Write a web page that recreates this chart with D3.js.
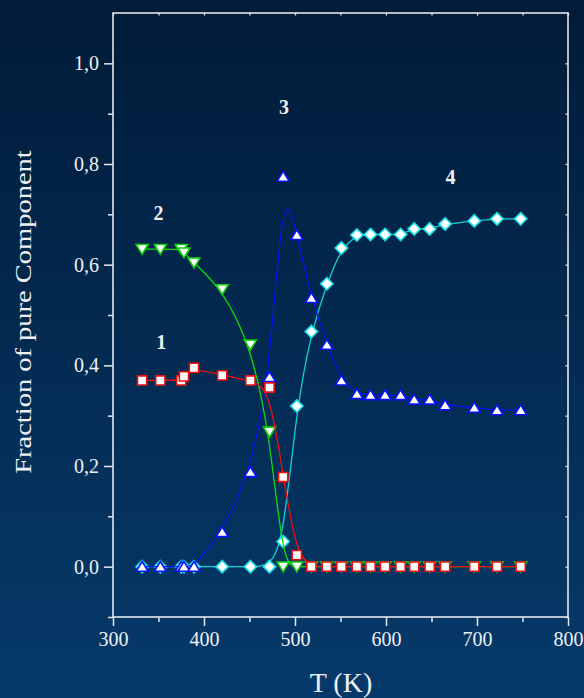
<!DOCTYPE html>
<html>
<head>
<meta charset="utf-8">
<script src="https://cdn.jsdelivr.net/npm/d3@7"></script>
<style>
  html, body { margin: 0; padding: 0; background: #001c3c; }
  svg { display: block; }
  text { font-family: "Liberation Serif", "Times New Roman", serif; fill: #eef0f4; }
</style>
</head>
<body>
<svg id="chart" width="584" height="698"></svg>
<script>
// Temperature grid (K)
const temps = [332, 352, 375, 378, 389, 420, 451, 472, 487, 502, 518, 535, 551,
               568, 583, 599, 616, 631, 648, 665, 697, 722, 748];

// Fraction of each pure component at every temperature
const comp1 = [0.370, 0.370, 0.370, 0.378, 0.395, 0.380, 0.370, 0.356, 0.178, 0.023, 0, 0, 0,
               0, 0, 0, 0, 0, 0, 0, 0, 0, 0];
const comp2 = [0.631, 0.631, 0.631, 0.624, 0.604, 0.551, 0.441, 0.268, 0, 0, 0, 0, 0,
               0, 0, 0, 0, 0, 0, 0, 0, 0, 0];
const comp3 = [0, 0, 0, 0, 0, 0.069, 0.188, 0.377, 0.775, 0.659, 0.534, 0.441, 0.370,
               0.343, 0.341, 0.341, 0.341, 0.332, 0.332, 0.321, 0.316, 0.311, 0.311];
const comp4 = [0, 0, 0, 0, 0, 0, 0, 0, 0.050, 0.319, 0.467, 0.562, 0.633,
               0.659, 0.660, 0.660, 0.660, 0.671, 0.671, 0.681, 0.687, 0.691, 0.691];

// Curve number labels, placed in data units
const labelText = ["1", "2", "3", "4"];
const labelT    = [353, 350, 488, 671];
const labelV    = [0.433, 0.688, 0.900, 0.760];

// Axis ticks
const xTicks = [300, 400, 500, 600, 700, 800];
const xMinor = [350, 450, 550, 650, 750];
const yTicks = [0.0, 0.2, 0.4, 0.6, 0.8, 1.0];
const yMinor = [-0.1, 0.1, 0.3, 0.5, 0.7, 0.9];
const yTickLabels = ["0,0", "0,2", "0,4", "0,6", "0,8", "1,0"];

const W = 584, H = 698;
const margin = { left: 113, right: 16, top: 13, bottom: 81 };
const svg = d3.select("#chart");

// background gradient
const defs = svg.append("defs");
const grad = defs.append("linearGradient").attr("id", "bg")
  .attr("x1", 0).attr("y1", 0).attr("x2", 0).attr("y2", 1);
grad.append("stop").attr("offset", "0%").attr("stop-color", "#011b38");
grad.append("stop").attr("offset", "100%").attr("stop-color", "#063a6b");
svg.append("rect").attr("width", W).attr("height", H).attr("fill", "url(#bg)");

const x = d3.scaleLinear().domain([300, 800]).range([margin.left, W - margin.right]);
const y = d3.scaleLinear().domain([-0.1, 1.1]).range([H - margin.bottom, margin.top]);

const axisColor = "#e4e7ee";
const g = svg.append("g");

// frame
g.append("rect")
  .attr("x", x(300)).attr("y", y(1.1))
  .attr("width", x(800) - x(300)).attr("height", y(-0.1) - y(1.1))
  .attr("fill", "none").attr("stroke", axisColor).attr("stroke-width", 1.6);

// bottom axis (outward ticks) and top mirror (small inward ticks)
const xAxis = d3.axisBottom(x).tickValues(xTicks).tickSize(9).tickPadding(6).tickFormat(d3.format("d"));
const gx = g.append("g").attr("transform", `translate(0,${y(-0.1)})`).call(xAxis);
gx.select(".domain").remove();
gx.selectAll("line").attr("stroke", axisColor).attr("stroke-width", 1.5);
gx.selectAll("text").attr("font-size", 20).style("fill", "#eef0f4")
  .attr("font-family", "Liberation Serif, Times New Roman, serif");

const gxm = g.append("g").attr("transform", `translate(0,${y(-0.1)})`)
  .call(d3.axisBottom(x).tickValues(xMinor).tickSize(5).tickFormat(""));
gxm.select(".domain").remove();
gxm.selectAll("line").attr("stroke", axisColor).attr("stroke-width", 1.5);

const gxt = g.append("g").attr("transform", `translate(0,${y(1.1)})`)
  .call(d3.axisBottom(x).tickValues(xTicks.concat(xMinor)).tickSize(2.5).tickFormat(""));
gxt.select(".domain").remove();
gxt.selectAll("line").attr("stroke", axisColor).attr("stroke-width", 1.3);

// left axis (outward ticks) and right mirror (small inward ticks)
const yAxis = d3.axisLeft(y).tickValues(yTicks).tickSize(9).tickPadding(5)
  .tickFormat((d, i) => yTickLabels[i]);
const gy = g.append("g").attr("transform", `translate(${x(300)},0)`).call(yAxis);
gy.select(".domain").remove();
gy.selectAll("line").attr("stroke", axisColor).attr("stroke-width", 1.5);
gy.selectAll("text").attr("font-size", 20).style("fill", "#eef0f4")
  .attr("font-family", "Liberation Serif, Times New Roman, serif");

const gym = g.append("g").attr("transform", `translate(${x(300)},0)`)
  .call(d3.axisLeft(y).tickValues(yMinor).tickSize(5).tickFormat(""));
gym.select(".domain").remove();
gym.selectAll("line").attr("stroke", axisColor).attr("stroke-width", 1.5);

const gyr = g.append("g").attr("transform", `translate(${x(800)},0)`)
  .call(d3.axisLeft(y).tickValues(yTicks.concat(yMinor)).tickSize(2.5).tickFormat(""));
gyr.select(".domain").remove();
gyr.selectAll("line").attr("stroke", axisColor).attr("stroke-width", 1.3);

// axis titles
svg.append("text")
  .attr("x", 341).attr("y", 692)
  .attr("text-anchor", "middle").attr("font-size", 28)
  .text("T (K)");
svg.append("text")
  .attr("transform", "translate(31,312) rotate(-90) scale(1,0.82)")
  .attr("text-anchor", "middle").attr("font-size", 28.5)
  .text("Fraction of pure Component");

// marker shapes
const shapes = {
  square:  "M-4.6,-4.6H4.6V4.6H-4.6Z",
  up:      "M0,-5.2L6,4.6H-6Z",
  down:    "M0,5.2L6,-4.6H-6Z",
  diamond: "M0,-6.2L6.2,0L0,6.2L-6.2,0Z"
};

const series = [
  { vals: comp4, line: "#12d0d6", stroke: "#12e0e6", shape: "diamond" },
  { vals: comp3, line: "#0a10f0", stroke: "#0a10ff", shape: "up" },
  { vals: comp2, line: "#10d810", stroke: "#10d010", shape: "down" },
  { vals: comp1, line: "#f01010", stroke: "#ee1010", shape: "square" }
];

const line = d3.line().curve(d3.curveBasis)
  .x((d, i) => x(temps[i])).y(d => y(d));

series.forEach(s => {
  const sg = g.append("g");
  sg.append("path").datum(s.vals)
    .attr("d", line).attr("fill", "none")
    .attr("stroke", s.line).attr("stroke-width", 1.3);
  sg.selectAll("path.mk").data(s.vals).join("path")
    .attr("class", "mk")
    .attr("transform", (d, i) => `translate(${x(temps[i])},${y(d)})`)
    .attr("d", shapes[s.shape])
    .attr("fill", "#ffffff").attr("stroke", s.stroke).attr("stroke-width", 1.6);
});

// curve numbers
svg.selectAll("text.lbl").data(labelText).join("text")
  .attr("class", "lbl")
  .attr("x", (d, i) => x(labelT[i])).attr("y", (d, i) => y(labelV[i]))
  .attr("text-anchor", "middle").attr("font-size", 20).attr("font-weight", "bold")
  .text(d => d);
</script>
</body>
</html>
